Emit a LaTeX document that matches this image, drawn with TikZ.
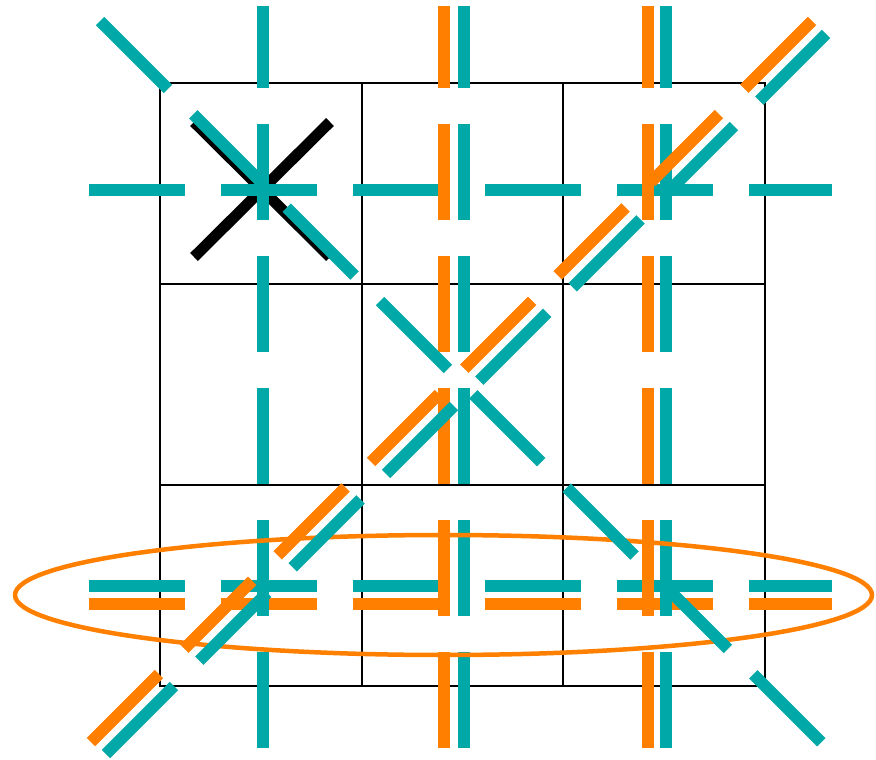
\documentclass[tikz,border=0pt]{standalone}
\definecolor{linkteal}{RGB}{0,168,168}
\definecolor{linkorange}{RGB}{255,127,0}

\begin{document}
\begin{tikzpicture}[
  x=1pt,
  y=-1pt,
  gridline/.style={draw=black, line width=2pt},
  link/.style={line width=12pt, line cap=butt, dash pattern=on 96pt off 36pt},
  teallink/.style={link, draw=linkteal},
  orangelink/.style={link, draw=linkorange},
  crossmark/.style={draw=black, line width=11pt, line cap=butt},
  loopmark/.style={draw=linkorange, line width=4.5pt}
]
\useasboundingbox (0,0) rectangle (876,760);

% ---------------------------------------------------------------------------
% 3x3 lattice
% ---------------------------------------------------------------------------
\draw[gridline] (160,83) rectangle (765,686);
\foreach \gx in {362,563}
  \draw[gridline] (\gx,83) -- (\gx,686);
\foreach \gy in {284,485}
  \draw[gridline] (160,\gy) -- (765,\gy);

% marked site
\draw[crossmark] (194,122) -- (330,257);
\draw[crossmark] (194,257) -- (330,122);

% ---------------------------------------------------------------------------
% Horizontal and vertical links
% ---------------------------------------------------------------------------
\draw[teallink] (89,190) -- (832,190);
\draw[teallink] (89,586) -- (832,586);
\draw[orangelink] (89,604) -- (832,604);

\draw[teallink] (263,748) -- (263,6);
\draw[orangelink] (444,748) -- (444,6);
\draw[teallink] (464,748) -- (464,6);
\draw[orangelink] (648,748) -- (648,6);
\draw[teallink] (666,748) -- (666,6);

% selected row
\draw[loopmark] (443.5,595) ellipse [x radius=428.5pt, y radius=60pt];

% ---------------------------------------------------------------------------
% Diagonal links
% ---------------------------------------------------------------------------
\draw[teallink] (100,21) -- (823,744);
\draw[orangelink] (91,742) -- (812,21);
\draw[teallink] (106,754) -- (826,34);

\end{tikzpicture}
\end{document}
